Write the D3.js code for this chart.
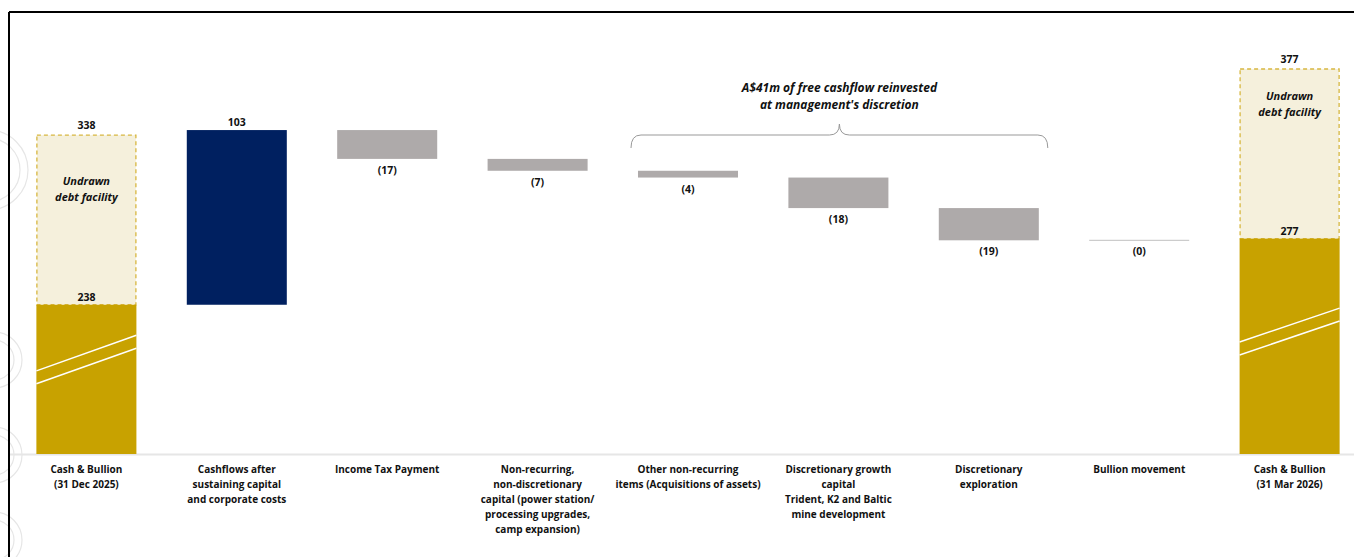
<!DOCTYPE html>
<html>
<head>
<meta charset="utf-8">
<script src="https://cdnjs.cloudflare.com/ajax/libs/d3/7.8.5/d3.min.js"></script>
<style>
  body { margin: 0; background: #fff; }
  svg text { font-family: "Open Sans", "Noto Sans", sans-serif; }
</style>
</head>
<body>
<div id="chart"></div>
<script>

// chart data
var categories = [
    ['Cash & Bullion', '(31 Dec 2025)'],
    ['Cashflows after', 'sustaining capital', 'and corporate costs'],
    ['Income Tax Payment'],
    ['Non-recurring,', 'non-discretionary', 'capital (power station/', 'processing upgrades,', 'camp expansion)'],
    ['Other non-recurring', 'items (Acquisitions of assets)'],
    ['Discretionary growth', 'capital', 'Trident, K2 and Baltic', 'mine development'],
    ['Discretionary', 'exploration'],
    ['Bullion movement'],
    ['Cash & Bullion', '(31 Mar 2026)']
];
var kinds = ['total', 'up', 'down', 'down', 'down', 'down', 'down', 'down', 'total'];
var values = [238, 103, -17, -7, -4, -18, -19, 0, 277];
var valueLabels = ['238', '103', '(17)', '(7)', '(4)', '(18)', '(19)', '(0)', '277'];
var facility = [100, null, null, null, null, null, null, null, 100];
var facilityLabels = ['338', null, null, null, null, null, null, null, '377'];
var breakMarks = [[199, 220], null, null, null, null, null, null, null, [216, 236]];
var braceFrom = 4, braceTo = 6;
var braceText = ['A$41m of free cashflow reinvested', "at management's discretion"];

var W = 1354, H = 557;
var baseY = 454;

var svg = d3.select('#chart').append('svg')
    .attr('width', W)
    .attr('height', H);

// faint watermark at the left edge
var wm = svg.append('g').attr('fill', 'none').attr('stroke', '#e6e6e6').attr('stroke-width', 1.2);
[[ -12, 170, 40 ], [ -12, 170, 32 ], [ -6, 360, 28 ], [ -6, 360, 20 ], [ -6, 455, 28 ], [ -6, 455, 20 ], [ -6, 540, 28 ], [ -6, 540, 20 ]]
    .forEach(function(c) {
        wm.append('circle').attr('cx', c[0]).attr('cy', c[1]).attr('r', c[2]);
    });

// frame
svg.append('line').attr('x1', 9).attr('y1', 12).attr('x2', W).attr('y2', 12)
    .attr('stroke', '#000').attr('stroke-width', 2);
svg.append('line').attr('x1', 9).attr('y1', 12).attr('x2', 9).attr('y2', H)
    .attr('stroke', '#000').attr('stroke-width', 2);

var x = d3.scaleBand()
    .domain(d3.range(categories.length))
    .range([-14, 1390])
    .padding(0.335);

// broken axis: visible part starts at 150
var y = d3.scaleLinear()
    .domain([150, 400])
    .range([baseY, baseY - 424]);

// compute waterfall spans
var running = 0;
var bars = values.map(function(v, i) {
    var b = { i: i, kind: kinds[i], v: v };
    if (kinds[i] == 'total') {
        b.lo = 150; b.hi = v;
        running = v;
    } else {
        var next = running + v;
        b.lo = Math.min(running, next);
        b.hi = Math.max(running, next);
        running = next;
    }
    return b;
});

// axis line
svg.append('line')
    .attr('x1', 10).attr('x2', W)
    .attr('y1', baseY + 0.5).attr('y2', baseY + 0.5)
    .attr('stroke', '#e6e6e6').attr('stroke-width', 2);

var colors = { total: '#c8a200', up: '#002060', down: '#aeaaaa' };

// undrawn debt facility boxes
bars.forEach(function(b) {
    if (facility[b.i] == null) return;
    var top = b.hi + facility[b.i];
    svg.append('rect')
        .attr('x', x(b.i) + 0.5)
        .attr('y', y(top))
        .attr('width', x.bandwidth() - 1)
        .attr('height', y(b.hi) - y(top))
        .attr('fill', '#f5f0dc')
        .attr('stroke', '#d7b740')
        .attr('stroke-width', 1.3)
        .attr('stroke-dasharray', '4,3');
    svg.append('text')
        .attr('x', x(b.i) + x.bandwidth() / 2)
        .attr('y', y(top) - 6)
        .attr('text-anchor', 'middle')
        .attr('font-size', 10.5)
        .attr('font-weight', 'bold')
        .attr('fill', '#111')
        .text(facilityLabels[b.i]);
    var t = svg.append('text')
        .attr('x', x(b.i) + x.bandwidth() / 2)
        .attr('y', y(top) + (b.i == 0 ? 50 : 31))
        .attr('text-anchor', 'middle')
        .attr('font-size', 11)
        .attr('font-weight', 'bold')
        .attr('font-style', 'italic')
        .attr('fill', '#111');
    t.append('tspan').attr('x', x(b.i) + x.bandwidth() / 2).attr('dy', 0).text('Undrawn');
    t.append('tspan').attr('x', x(b.i) + x.bandwidth() / 2).attr('dy', 16).text('debt facility');
});

// bars
bars.forEach(function(b) {
    var h = y(b.lo) - y(b.hi);
    if (h < 1) {
        svg.append('line')
            .attr('x1', x(b.i)).attr('x2', x(b.i) + x.bandwidth())
            .attr('y1', y(b.hi)).attr('y2', y(b.hi))
            .attr('stroke', '#c0c0c0').attr('stroke-width', 1);
    } else {
        svg.append('rect')
            .attr('x', x(b.i))
            .attr('y', y(b.hi))
            .attr('width', x.bandwidth())
            .attr('height', h)
            .attr('fill', colors[b.kind]);
    }
    if (breakMarks[b.i]) {
        var bm = breakMarks[b.i];
        [0, -7.6].forEach(function(off) {
            svg.append('line')
                .attr('x1', x(b.i)).attr('y1', y(bm[0] + off))
                .attr('x2', x(b.i) + x.bandwidth()).attr('y2', y(bm[1] + off))
                .attr('stroke', '#fff').attr('stroke-width', 1.5);
        });
    }
});

// value labels
bars.forEach(function(b) {
    var cx = x(b.i) + x.bandwidth() / 2;
    var ly;
    if (b.kind == 'total') ly = y(b.hi) - 4;
    else if (b.kind == 'up') ly = y(b.hi) - 4;
    else ly = y(b.lo) + 15;
    svg.append('text')
        .attr('x', cx)
        .attr('y', ly)
        .attr('text-anchor', 'middle')
        .attr('font-size', 10.5)
        .attr('font-weight', 'bold')
        .attr('fill', '#111')
        .text(valueLabels[b.i]);
});

// category labels
categories.forEach(function(lines, i) {
    var cx = x(i) + x.bandwidth() / 2;
    var t = svg.append('text')
        .attr('text-anchor', 'middle')
        .attr('font-size', 10)
        .attr('font-weight', 'bold')
        .attr('fill', '#111')
        .attr('y', 473);
    lines.forEach(function(l, k) {
        t.append('tspan').attr('x', cx).attr('dy', k == 0 ? 0 : 15).text(l);
    });
});

// brace over the discretionary items
var bx0 = x(braceFrom) - 7, bx1 = x(braceTo) + x.bandwidth() + 9;
var bmid = (bx0 + bx1) / 2;
var bTop = 135, bEnd = 148, bPeak = 124;
var brace = 'M' + bx0 + ',' + bEnd +
    ' Q' + bx0 + ',' + bTop + ' ' + (bx0 + 10) + ',' + bTop +
    ' L' + (bmid - 10) + ',' + bTop +
    ' Q' + bmid + ',' + bTop + ' ' + bmid + ',' + bPeak +
    ' Q' + bmid + ',' + bTop + ' ' + (bmid + 10) + ',' + bTop +
    ' L' + (bx1 - 10) + ',' + bTop +
    ' Q' + bx1 + ',' + bTop + ' ' + bx1 + ',' + bEnd;
svg.append('path')
    .attr('d', brace)
    .attr('fill', 'none')
    .attr('stroke', '#999')
    .attr('stroke-width', 1);

var at = svg.append('text')
    .attr('text-anchor', 'middle')
    .attr('font-size', 12)
    .attr('font-weight', 'bold')
    .attr('font-style', 'italic')
    .attr('fill', '#111')
    .attr('y', 92);
braceText.forEach(function(l, k) {
    at.append('tspan').attr('x', bmid).attr('dy', k == 0 ? 0 : 17).text(l);
});

</script>
</body>
</html>
